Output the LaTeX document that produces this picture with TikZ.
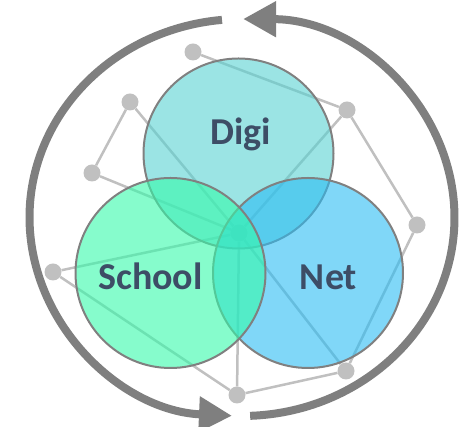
\documentclass[tikz,border=0pt]{standalone}
\usepackage{fontspec}
\setmainfont{Carlito}
\usetikzlibrary{arrows.meta}
\definecolor{ringgray}{RGB}{127,127,127}
\definecolor{netgray}{RGB}{192,192,192}
\definecolor{edgegray}{RGB}{128,128,128}
\definecolor{digicol}{RGB}{88,210,210}
\definecolor{schoolcol}{RGB}{53,250,170}
\definecolor{netcol}{RGB}{43,188,243}
\definecolor{textcol}{RGB}{61,77,102}
\tikzset{
  dot/.style={circle, fill=netgray, inner sep=0pt, minimum size=17pt},
  link/.style={netgray, line width=2.5pt},
  set/.style={draw=edgegray, line width=2pt, fill opacity=0.6},
  setname/.style={anchor=base, inner sep=0pt, text=textcol, font=\fontsize{38}{40}\selectfont\bfseries},
  ring/.style={ringgray, line width=8pt}
}
\begin{document}
\begin{tikzpicture}[x=1pt, y=1pt]
    \useasboundingbox (0, 0) rectangle (472, 427);

    \node [dot] at (193, 375) (a) {};
    \node [dot] at (130, 325) (b) {};
    \node [dot] at (92, 254) (c) {};
    \node [dot] at (347, 317) (d) {};
    \node [dot] at (417, 202) (e) {};
    \node [dot] at (53, 155) (f) {};
    \node [dot] at (346, 56) (g) {};
    \node [dot] at (237, 32) (h) {};
    \node [dot] at (239, 194) (hub) {};
    \draw [link] (a) -- (d);
    \draw [link] (b) -- (c);
    \draw [link] (b) -- (hub);
    \draw [link] (c) -- (hub);
    \draw [link] (d) -- (hub);
    \draw [link] (d) -- (e);
    \draw [link] (e) -- (g);
    \draw [link] (f) -- (hub);
    \draw [link] (f) -- (h);
    \draw [link] (h) -- (hub);
    \draw [link] (h) -- (g);
    \draw [link] (hub) -- (g);

    \node [circle, minimum size=190pt, inner sep=0pt, set, fill=digicol] at (238.5, 273.5) (digi) {};
    \node [circle, minimum size=190pt, inner sep=0pt, set, fill=netcol] at (308, 154) (net) {};
    \node [circle, minimum size=190pt, inner sep=0pt, set, fill=schoolcol] at (170.5, 154) (school) {};

    \node [setname] at (240.5, 282) (digitext) {Digi};
    \node [setname] at (150.5, 137) (schooltext) {School};
    \node [setname] at (328.5, 137) (nettext) {Net};

    \draw [ring, -{Triangle[length=33pt, width=34pt]}] (242, 209.5) ++(95.4:212.5 and 198.5) arc [start angle=95.4, end angle=267.3, x radius=212.5, y radius=198.5];
    \draw [ring, -{Triangle[length=33pt, width=34pt]}] (242, 209.5) ++(272.2:212.5 and 198.5) arc [start angle=272.2, end angle=449.7, x radius=212.5, y radius=198.5];
\end{tikzpicture}
\end{document}
